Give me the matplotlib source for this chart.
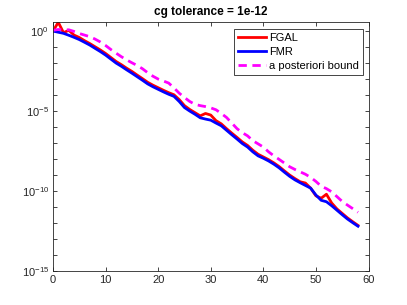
import numpy as np
import matplotlib
matplotlib.use("Agg")
import matplotlib.pyplot as plt
from matplotlib.ticker import FixedLocator, FuncFormatter

plt.rcParams['font.family'] = ['Liberation Sans', 'DejaVu Sans']
plt.rcParams['mathtext.default'] = 'regular'

# iteration index and log10 of the residual norms
iters = list(range(59))
fgal_log10 = [0.0, 0.55, -0.1, 0.05, -0.25, -0.4, -0.6, -0.78, -0.98, -1.18,
              -1.4, -1.65, -1.9, -2.1, -2.32, -2.52, -2.75, -2.97, -3.2, -3.38,
              -3.54, -3.7, -3.85, -3.98, -4.28, -4.66, -4.9, -5.1, -5.3, -5.15,
              -5.25, -5.6, -5.8, -6.1, -6.38, -6.65, -6.93, -7.15, -7.45, -7.7,
              -7.87, -8.04, -8.24, -8.47, -8.74, -9.0, -9.22, -9.42, -9.5, -9.82,
              -10.3, -10.45, -10.2, -10.75, -11.12, -11.4, -11.68, -11.92, -12.15]
fmr_log10 = [0.0, -0.07, -0.14, -0.26, -0.39, -0.53, -0.7, -0.875, -1.08, -1.28,
             -1.5, -1.75, -2.0, -2.2, -2.42, -2.63, -2.85, -3.07, -3.3, -3.48,
             -3.64, -3.8, -3.95, -4.08, -4.4, -4.78, -5.0, -5.2, -5.42, -5.5,
             -5.57, -5.75, -5.92, -6.2, -6.48, -6.75, -7.03, -7.25, -7.55, -7.8,
             -7.95, -8.12, -8.32, -8.55, -8.82, -9.08, -9.3, -9.48, -9.65, -9.82,
             -10.25, -10.58, -10.67, -10.92, -11.2, -11.48, -11.75, -11.98, -12.2]
bound_log10 = [0.05, 0.1, 0.08, 0.08, -0.02, -0.15, -0.25, -0.35, -0.5, -0.68,
               -0.9, -1.15, -1.38, -1.6, -1.8, -1.98, -2.15, -2.35, -2.6, -2.82,
               -3.0, -3.12, -3.25, -3.55, -3.88, -4.15, -4.4, -4.58, -4.66, -4.72,
               -4.8, -4.92, -5.15, -5.4, -5.75, -6.1, -6.35, -6.55, -6.85, -7.05,
               -7.25, -7.55, -7.8, -8.02, -8.25, -8.48, -8.65, -8.8, -8.95, -9.15,
               -9.4, -9.7, -9.85, -10.05, -10.35, -10.65, -10.88, -11.1, -11.33]

x_ticks = [0, 10, 20, 30, 40, 50, 60]
y_decades = list(range(-15, 1))
y_labelled = [0, -5, -10, -15]

fig = plt.figure(figsize=(4.07, 3.05), dpi=100)
ax = fig.add_axes([53 / 407, 1 - 271 / 305, (368.5 - 53) / 407, (271 - 22.3) / 305])

ax.semilogy(iters, 10.0 ** np.array(fgal_log10), color='#ff0000', lw=2, label='FGAL')
ax.semilogy(iters, 10.0 ** np.array(fmr_log10), color='#0000ff', lw=2, label='FMR')
ax.semilogy(iters, 10.0 ** np.array(bound_log10), color='#ff00ff', lw=2,
            ls=(0, (3, 2)), label='a posteriori bound')

ax.set_xlim(0, 60)
ax.set_ylim(1e-15, 10 ** 0.55)
ax.xaxis.set_major_locator(FixedLocator(x_ticks))
ax.yaxis.set_major_locator(FixedLocator([10.0 ** d for d in y_decades]))
ax.yaxis.set_minor_locator(FixedLocator([]))


def ylab(v, pos):
    d = int(round(np.log10(v)))
    return '$10^{%d}$' % d if d in y_labelled else ''


ax.yaxis.set_major_formatter(FuncFormatter(ylab))
ax.tick_params(axis='both', which='major', direction='in', length=3, width=0.6,
               top=True, right=True, labelsize=8, colors='#262626', pad=3)
for s in ax.spines.values():
    s.set_linewidth(0.6)
    s.set_color('#262626')

ax.set_title('cg tolerance = 1e-12', fontsize=8.5, fontweight='bold', pad=5.5)

leg = ax.legend(loc='upper right', bbox_to_anchor=(363 / 407, 1 - 29 / 305),
                bbox_transform=fig.transFigure, borderaxespad=0, fontsize=8,
                fancybox=False, framealpha=1, edgecolor='#262626',
                handlelength=2.5, handletextpad=0.3, labelspacing=0.35,
                borderpad=0.35)
leg.get_frame().set_linewidth(0.6)

fig.savefig('out.png', dpi=100)
